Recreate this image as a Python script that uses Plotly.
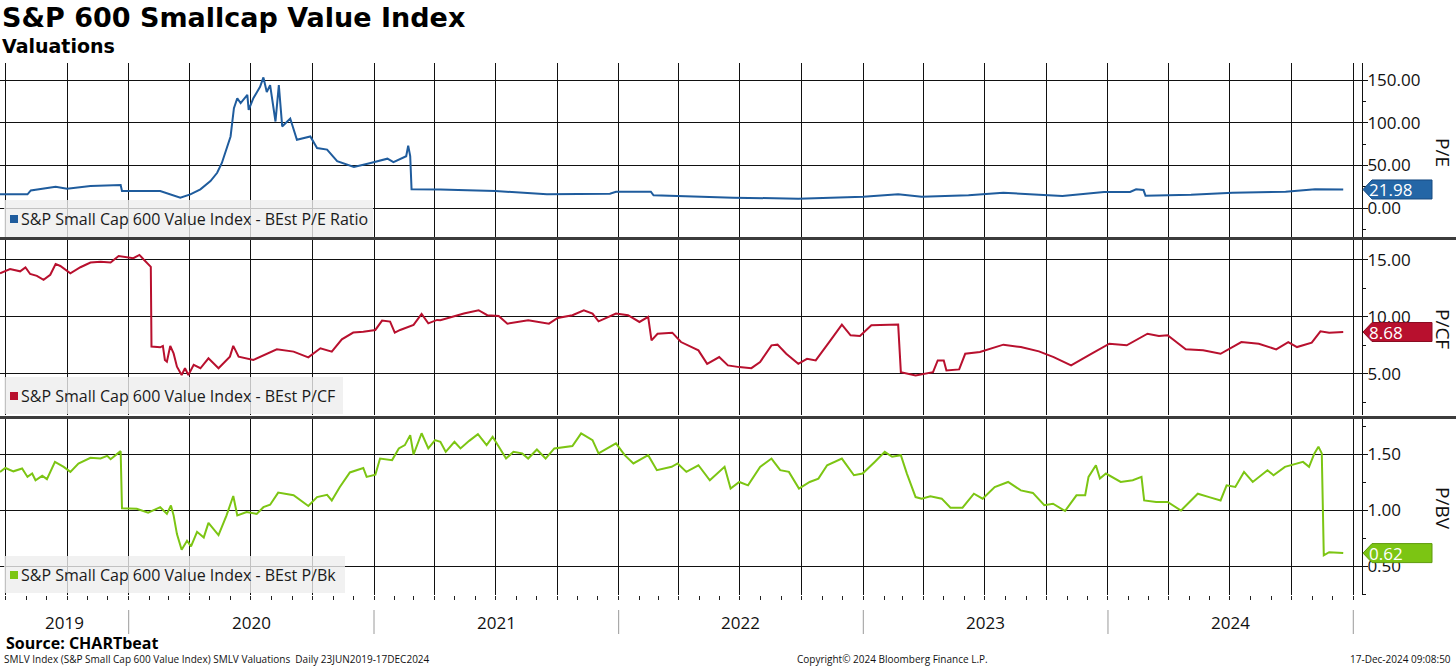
import plotly.graph_objects as go
import pandas as pd

# ---------------- DATA ----------------
pe_dates = ["2019-06-23","2019-08-03","2019-08-08","2019-09-14","2019-10-01","2019-11-05","2019-12-20","2019-12-22",
            "2020-02-17","2020-03-18","2020-04-02","2020-04-17","2020-05-02","2020-05-12","2020-05-19","2020-05-27",
            "2020-06-01","2020-06-06","2020-06-11","2020-06-16","2020-06-26","2020-06-28","2020-07-05","2020-07-15",
            "2020-07-20","2020-07-25","2020-07-30","2020-08-07","2020-08-12","2020-08-17","2020-08-29","2020-09-08",
            "2020-09-28","2020-10-08","2020-10-23","2020-11-07","2020-12-02","2020-12-27","2021-01-21","2021-01-30",
            "2021-02-18","2021-02-21","2021-02-24","2021-02-26","2021-04-10","2021-05-20","2021-07-01","2021-09-16",
            "2021-12-19","2021-12-28","2022-02-18","2022-02-22","2022-06-21","2022-09-26","2023-01-01","2023-02-22",
            "2023-03-29","2023-06-07","2023-07-29","2023-09-20","2023-10-25","2023-12-26","2024-02-03","2024-02-12",
            "2024-02-23","2024-02-26","2024-05-04","2024-07-05","2024-09-22","2024-11-05","2024-12-17"]
pe_values = [16.3,16.3,20.9,25.2,22.9,26.0,27.1,20.2,
             20.2,12.4,16.3,22.1,31.8,41.5,53.0,70.5,
             84.0,117.0,128.7,123.0,132.6,115.0,128.7,142.0,
             153.0,136.0,144.0,101.5,144.0,95.7,105.0,80.2,
             84.0,70.5,68.6,55.0,48.4,53.0,58.0,54.0,
             60.9,73.3,61.0,22.1,22.0,21.0,20.2,16.3,
             17.1,19.4,19.4,15.1,12.4,11.2,13.6,16.3,
             13.6,15.1,18.2,15.9,14.3,19.0,19.0,22.1,
             21.3,14.7,15.9,18.2,19.4,22.1,21.98]

pcf_dates = ["2019-06-23","2019-07-08","2019-07-23","2019-07-31","2019-08-07","2019-08-17","2019-08-27","2019-09-06",
             "2019-09-14","2019-09-21","2019-10-06","2019-10-21","2019-11-05","2019-11-20","2019-12-05","2019-12-17",
             "2020-01-08","2020-01-17","2020-01-23","2020-01-30","2020-02-03","2020-02-04","2020-02-17","2020-02-21",
             "2020-02-24","2020-02-27","2020-03-03","2020-03-08","2020-03-13","2020-03-20","2020-03-25","2020-03-30",
             "2020-04-07","2020-04-17","2020-04-29","2020-05-14","2020-05-31","2020-06-05","2020-06-13","2020-07-05",
             "2020-07-25","2020-08-09","2020-09-03","2020-09-25","2020-10-13","2020-10-30","2020-11-14","2020-12-01",
             "2020-12-16","2021-01-03","2021-01-13","2021-01-25","2021-02-01","2021-02-09","2021-03-01","2021-03-13",
             "2021-03-23","2021-04-05","2021-04-10","2021-04-27","2021-05-15","2021-06-06","2021-06-19","2021-07-06",
             "2021-07-19","2021-08-19","2021-09-19","2021-10-02","2021-10-24","2021-11-10","2021-11-23","2021-12-02",
             "2021-12-28","2022-01-15","2022-02-01","2022-02-14","2022-02-19","2022-02-28","2022-03-22","2022-04-04",
             "2022-04-30","2022-05-13","2022-05-31","2022-06-13","2022-06-30","2022-07-18","2022-07-31","2022-08-17",
             "2022-08-26","2022-09-08","2022-09-26","2022-10-09","2022-10-22","2022-11-13","2022-11-30","2022-12-13",
             "2022-12-27","2023-01-13","2023-02-04","2023-02-22","2023-02-26","2023-03-20","2023-04-15","2023-04-22",
             "2023-05-01","2023-05-05","2023-05-24","2023-06-02","2023-06-24","2023-07-29","2023-08-24","2023-09-20",
             "2023-10-12","2023-11-07","2023-12-07","2024-01-03","2024-01-29","2024-02-29","2024-03-17","2024-03-30",
             "2024-04-26","2024-05-22","2024-06-17","2024-07-18","2024-08-13","2024-09-08","2024-09-26","2024-10-09",
             "2024-10-31","2024-11-13","2024-11-26","2024-12-17"]
pcf_values = [13.83,14.2,14.0,14.35,13.77,13.6,13.25,13.7,
              14.65,14.47,13.83,14.36,14.77,14.85,14.77,15.35,
              15.15,15.44,15.06,14.65,14.4,7.4,7.34,7.46,
              6.23,6.08,7.46,6.8,5.64,4.91,5.5,4.91,
              5.8,5.5,6.37,5.5,6.52,7.46,6.52,6.23,
              6.73,7.16,6.96,6.46,7.25,6.96,8.04,8.63,
              8.71,8.86,9.68,9.59,8.63,8.86,9.3,10.26,
              9.44,9.74,9.71,10.0,10.3,10.59,10.15,10.09,
              9.41,9.71,9.41,9.91,10.15,10.59,10.3,9.62,
              10.3,10.15,9.56,10.0,7.95,8.53,8.62,7.8,
              7.07,5.89,6.48,5.75,5.6,5.51,6.04,7.51,
              7.57,6.77,5.89,6.33,6.19,7.95,9.33,8.39,
              8.33,9.27,9.27,9.33,5.16,4.87,5.16,6.19,
              6.19,5.31,5.4,6.77,6.92,7.57,7.36,6.98,
              6.48,5.75,6.77,7.65,7.51,8.53,8.33,8.39,
              7.16,7.07,6.77,7.8,7.65,7.16,7.8,7.36,
              7.74,8.74,8.62,8.68]

pbv_dates = ["2019-06-23","2019-07-01","2019-07-13","2019-07-26","2019-08-03","2019-08-10","2019-08-15","2019-08-25",
             "2019-09-01","2019-09-13","2019-09-26","2019-10-06","2019-10-18","2019-11-05","2019-11-20","2019-11-30",
             "2019-12-05","2019-12-20","2019-12-22","2020-01-13","2020-01-30","2020-02-17","2020-02-27","2020-03-04",
             "2020-03-08","2020-03-13","2020-03-20","2020-03-28","2020-04-03","2020-04-12","2020-04-22","2020-04-29",
             "2020-05-14","2020-05-26","2020-06-05","2020-06-11","2020-06-25","2020-07-10","2020-07-20","2020-07-30",
             "2020-08-11","2020-09-03","2020-09-25","2020-10-08","2020-10-23","2020-10-30","2020-11-11","2020-11-26",
             "2020-12-16","2020-12-21","2021-01-03","2021-01-10","2021-01-28","2021-02-07","2021-02-16","2021-02-24",
             "2021-03-01","2021-03-13","2021-03-23","2021-04-02","2021-04-10","2021-04-18","2021-05-01","2021-05-10",
             "2021-05-23","2021-06-05","2021-06-18","2021-06-27","2021-07-17","2021-07-28","2021-08-10","2021-08-19",
             "2021-09-01","2021-09-14","2021-09-27","2021-10-24","2021-11-06","2021-11-23","2021-12-02","2021-12-19",
             "2021-12-28","2022-01-10","2022-01-23","2022-02-14","2022-02-27","2022-03-21","2022-03-30","2022-04-12",
             "2022-04-30","2022-05-17","2022-06-08","2022-06-17","2022-06-30","2022-07-13","2022-07-31","2022-08-17",
             "2022-08-30","2022-09-12","2022-09-27","2022-10-13","2022-10-26","2022-11-08","2022-11-30","2022-12-18",
             "2022-12-31","2023-01-18","2023-02-02","2023-02-13","2023-02-26","2023-03-07","2023-03-20","2023-03-29",
             "2023-04-11","2023-04-28","2023-05-11","2023-05-29","2023-06-15","2023-06-28","2023-07-16","2023-08-05",
             "2023-08-24","2023-09-11","2023-09-28","2023-10-11","2023-10-29","2023-11-15","2023-11-28","2023-12-03",
             "2023-12-14","2023-12-20","2023-12-29","2024-01-20","2024-02-07","2024-02-20","2024-02-24","2024-03-13",
             "2024-03-30","2024-04-19","2024-05-14","2024-05-31","2024-06-17","2024-06-26","2024-07-09","2024-07-22",
             "2024-08-04","2024-08-26","2024-09-04","2024-09-21","2024-10-18","2024-10-27","2024-11-04","2024-11-10",
             "2024-11-15","2024-11-18","2024-11-26","2024-12-17"]
pbv_values = [1.345,1.38,1.35,1.375,1.30,1.33,1.27,1.31,
              1.28,1.434,1.39,1.345,1.42,1.47,1.464,1.488,
              1.458,1.53,1.02,1.016,0.98,1.03,0.97,1.045,
              0.957,0.79,0.65,0.73,0.68,0.81,0.76,0.89,
              0.78,0.957,1.13,0.957,0.987,0.97,1.03,1.052,
              1.16,1.136,1.04,1.12,1.14,1.09,1.21,1.34,
              1.38,1.30,1.32,1.464,1.45,1.554,1.584,1.673,
              1.5,1.69,1.554,1.628,1.613,1.524,1.613,1.554,
              1.622,1.682,1.584,1.658,1.464,1.524,1.51,1.464,
              1.545,1.464,1.554,1.575,1.688,1.628,1.51,1.57,
              1.6,1.494,1.42,1.494,1.36,1.39,1.42,1.345,
              1.404,1.27,1.39,1.196,1.255,1.225,1.39,1.464,
              1.36,1.345,1.196,1.255,1.285,1.404,1.464,1.315,
              1.33,1.434,1.524,1.48,1.494,1.33,1.12,1.106,
              1.127,1.106,1.025,1.025,1.15,1.106,1.21,1.255,
              1.18,1.157,1.048,1.061,0.996,1.136,1.136,1.30,
              1.404,1.285,1.33,1.255,1.27,1.30,1.09,1.076,
              1.076,1.0,1.15,1.12,1.09,1.225,1.21,1.345,
              1.255,1.36,1.315,1.39,1.434,1.39,1.51,1.57,
              1.51,0.60,0.628,0.62]

series_names = ["S&P Small Cap 600 Value Index - BEst P/E Ratio",
                "S&P Small Cap 600 Value Index - BEst P/CF",
                "S&P Small Cap 600 Value Index - BEst P/Bk"]
axis_titles = ["P/E", "P/CF", "P/BV"]
series_colors = ["#1f5c9d", "#b8102e", "#7cc513"]
tag_colors = ["#2466a6", "#b8102e", "#7cc513"]
tag_borders = ["#174a80", "#8a0c22", "#5e9a0c"]
y_ticks = [[0, 50, 100, 150], [5, 10, 15], [0.5, 1.0, 1.5]]
y_ranges = [[-33.6, 169.9], [1.4, 16.75], [0.246, 1.817]]
minor_dticks = [25, 2.5, 0.25]
years = [2019, 2020, 2021, 2022, 2023, 2024]

title_text = "S&P 600 Smallcap Value Index"
subtitle_text = "Valuations"
source_text = "Source: CHARTbeat"
footer_left = "SMLV Index (S&P Small Cap 600 Value Index) SMLV Valuations  Daily 23JUN2019-17DEC2024"
footer_mid = "Copyright\u00a9 2024 Bloomberg Finance L.P."
footer_right = "17-Dec-2024 09:08:50"

X_START = "2019-06-23"
X_END = "2025-01-14"

# ---------------- LAYOUT ----------------
W, H = 1456, 666
def fx(p):
    return p / W
def fy(p):
    return 1 - p / H

X_RIGHT = 1362
panels_px = [(63, 237), (240, 415), (419, 595)]

fig = go.Figure()
all_dates = [pe_dates, pcf_dates, pbv_dates]
all_vals = [pe_values, pcf_values, pbv_values]

LABEL_FONT = "Open Sans, Noto Sans, sans-serif"

for i in range(3):
    xa = "x" if i == 0 else f"x{i+1}"
    ya = "y" if i == 0 else f"y{i+1}"
    fig.add_trace(go.Scatter(x=all_dates[i], y=all_vals[i], mode="lines",
                             line=dict(color=series_colors[i], width=2),
                             xaxis=xa, yaxis=ya, hoverinfo="skip", showlegend=False))
    top, bot = panels_px[i]
    xkey = "xaxis" if i == 0 else f"xaxis{i+1}"
    ykey = "yaxis" if i == 0 else f"yaxis{i+1}"
    xcfg = dict(domain=[0, fx(X_RIGHT)], range=[X_START, X_END], type="date",
                anchor=ya, tick0="2019-07-01", dtick="M3",
                showgrid=True, gridcolor="#111111", gridwidth=1,
                showticklabels=False, ticks="", showline=False, zeroline=False)
    if i > 0:
        xcfg["matches"] = "x"
    if i == 2:
        xcfg.update(ticks="outside", ticklen=4, tickcolor="#222222",
                    minor=dict(dtick="M1", tick0="2019-07-01", ticks="outside",
                               ticklen=4, tickcolor="#222222", showgrid=False))
    ycfg = dict(domain=[fy(bot), fy(top)], range=y_ranges[i], anchor=xa, side="right",
                tickvals=y_ticks[i], tickformat=".2f", ticks="outside", ticklen=5,
                tickcolor="#111111", showline=True, linecolor="#111111", linewidth=1,
                showgrid=True, gridcolor="#111111", gridwidth=1, zeroline=False,
                ticklabelstandoff=-4,
                tickfont=dict(family=LABEL_FONT, size=17, color="#111111"),
                minor=dict(dtick=minor_dticks[i], tick0=0, ticks="outside", ticklen=3,
                           tickcolor="#111111", showgrid=False))
    fig.layout[xkey] = xcfg
    fig.layout[ykey] = ycfg

shapes = []
annotations = []

# thick separators between panels
for ysep in [238.5, 417.5]:
    shapes.append(dict(type="line", xref="paper", yref="paper", x0=0, x1=1,
                       y0=fy(ysep), y1=fy(ysep), line=dict(color="#3c3c3c", width=3)))

# legend boxes
legend_boxes = [(4, 373, 200, 237), (4, 343, 377, 414), (4, 345, 556, 593)]
for i, (x0, x1, y0, y1) in enumerate(legend_boxes):
    shapes.append(dict(type="rect", xref="paper", yref="paper", x0=fx(x0), x1=fx(x1),
                       y0=fy(y1), y1=fy(y0), fillcolor="rgba(238,238,238,0.8)",
                       line=dict(width=0), layer="above"))
    yc = (y0 + y1) / 2 + 0.5
    shapes.append(dict(type="rect", xref="paper", yref="paper", x0=fx(10), x1=fx(18),
                       y0=fy(yc + 4), y1=fy(yc - 4), fillcolor=series_colors[i],
                       line=dict(width=0), layer="above"))
    annotations.append(dict(text=series_names[i], xref="paper", yref="paper",
                            x=fx(19), y=fy(yc), xanchor="left", yanchor="middle",
                            showarrow=False,
                            font=dict(family=LABEL_FONT, size=16, color="#1a1a1a")))

# last-value tags and axis titles
axis_title_y = [152, 329, 508]
for i in range(3):
    ya = "y" if i == 0 else f"y{i+1}"
    last = all_vals[i][-1]
    shapes.append(dict(type="path", xref="paper", yref=ya,
                       xsizemode="pixel", ysizemode="pixel",
                       xanchor=fx(1363), yanchor=last,
                       path="M 0 0 L 9 9.5 L 69 9.5 L 69 -9.5 L 9 -9.5 Z",
                       fillcolor=tag_colors[i], line=dict(color=tag_borders[i], width=1),
                       layer="above"))
    annotations.append(dict(text=f"{last:.2f}", xref="paper", yref=ya,
                            x=fx(1367), y=last, xanchor="left", yanchor="middle",
                            showarrow=False,
                            font=dict(family=LABEL_FONT, size=17, color="white")))
    annotations.append(dict(text=axis_titles[i], xref="paper", yref="paper",
                            x=fx(1443), y=fy(axis_title_y[i]), xanchor="center",
                            yanchor="middle", textangle=90, showarrow=False,
                            font=dict(family=LABEL_FONT, size=19, color="#111111")))

# year labels and separators on the bottom axis
start_ts = pd.Timestamp(X_START)
for yr in years:
    a = max(pd.Timestamp(f"{yr}-01-01"), start_ts)
    b = pd.Timestamp(f"{yr+1}-01-01")
    mid = a + (b - a) / 2
    annotations.append(dict(text=str(yr), xref="x3", yref="paper", x=mid.strftime("%Y-%m-%d %H:%M"),
                            y=fy(622), xanchor="center", yanchor="middle", showarrow=False,
                            font=dict(family=LABEL_FONT, size=17, color="#111111")))
    shapes.append(dict(type="line", xref="x3", yref="paper", x0=b.strftime("%Y-%m-%d"),
                       x1=b.strftime("%Y-%m-%d"), y0=fy(634), y1=fy(610),
                       line=dict(color="#9a9a9a", width=1)))

# titles
annotations.append(dict(text=title_text, xref="paper", yref="paper", x=0, y=fy(17),
                        xanchor="left", yanchor="middle", showarrow=False,
                        font=dict(family="DejaVu Sans", size=27, color="#000000", weight="bold")))
annotations.append(dict(text=subtitle_text, xref="paper", yref="paper", x=0, y=fy(46),
                        xanchor="left", yanchor="middle", showarrow=False,
                        font=dict(family="DejaVu Sans", size=19, color="#000000", weight="bold")))
annotations.append(dict(text=source_text, xref="paper", yref="paper", x=fx(4), y=fy(643),
                        xanchor="left", yanchor="middle", showarrow=False,
                        font=dict(family=LABEL_FONT, size=16, color="#000000", weight="bold")))
annotations.append(dict(text=footer_left, xref="paper", yref="paper", x=fx(2), y=fy(659),
                        xanchor="left", yanchor="middle", showarrow=False,
                        font=dict(family=LABEL_FONT, size=10, color="#111111")))
annotations.append(dict(text=footer_mid, xref="paper", yref="paper", x=fx(795), y=fy(659),
                        xanchor="left", yanchor="middle", showarrow=False,
                        font=dict(family=LABEL_FONT, size=10, color="#111111")))
annotations.append(dict(text=footer_right, xref="paper", yref="paper", x=fx(1453), y=fy(659),
                        xanchor="right", yanchor="middle", showarrow=False,
                        font=dict(family=LABEL_FONT, size=10, color="#111111")))

fig.update_layout(width=W, height=H, margin=dict(l=0, r=0, t=0, b=0),
                  paper_bgcolor="white", plot_bgcolor="white", showlegend=False,
                  shapes=shapes, annotations=annotations, hovermode=False)

fig.write_html("out.html", config={"displayModeBar": False},
               post_script="document.body.style.margin='0px';document.body.style.padding='0px';"
                           "document.body.style.overflow='hidden';")
